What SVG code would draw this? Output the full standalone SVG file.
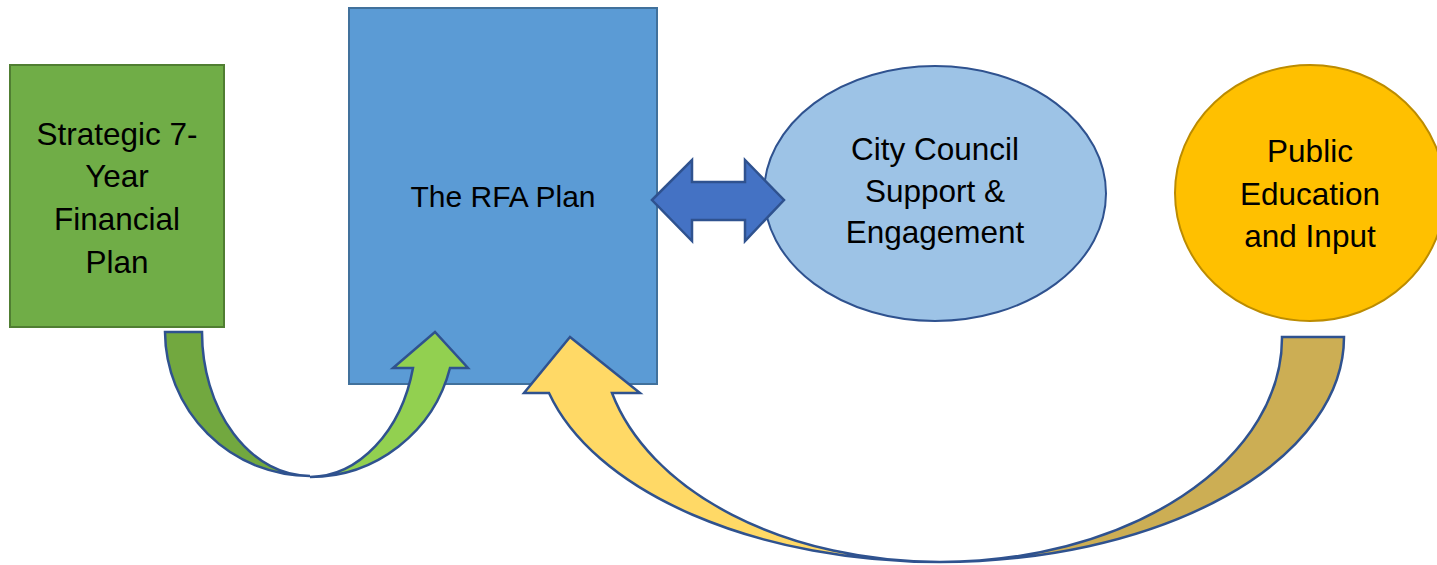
<svg xmlns="http://www.w3.org/2000/svg" width="1437" height="565" viewBox="0 0 1437 565">
<style>
.t{font-family:"Liberation Sans",Arial,sans-serif;font-size:31.5px;fill:#000;text-anchor:middle}
.arr{stroke:#2F528F;stroke-width:2.5;stroke-linejoin:miter}
</style>
<rect width="1437" height="565" fill="#fff"/>
<g id="strategic-plan">
<rect x="10" y="65" width="214" height="262" fill="#70AD47" stroke="#507E32" stroke-width="2"/>
<text class="t" x="117" y="145">Strategic 7-</text>
<text class="t" x="117" y="187">Year</text>
<text class="t" x="117" y="230">Financial</text>
<text class="t" x="117" y="273">Plan</text>
</g>
<g id="rfa-plan">
<rect x="349" y="8" width="308" height="376" fill="#5B9BD5" stroke="#41719C" stroke-width="2"/>
<text class="t" x="503" y="207" style="font-size:30px">The RFA Plan</text>
</g>
<g id="city-council">
<ellipse cx="935" cy="193.5" rx="171" ry="127.5" fill="#9DC3E6" stroke="#2F528F" stroke-width="2"/>
<text class="t" x="935" y="160">City Council</text>
<text class="t" x="935" y="202">Support &amp;</text>
<text class="t" x="935" y="243">Engagement</text>
</g>
<g id="public-education">
<ellipse cx="1310" cy="193" rx="135" ry="128" fill="#FFC000" stroke="#BC8C00" stroke-width="2"/>
<text class="t" x="1310" y="162">Public</text>
<text class="t" x="1310" y="205">Education</text>
<text class="t" x="1310" y="247">and Input</text>
</g>
<g id="connectors">
<path class="arr" fill="#72A83F" d="M165,332 L202,332 A108,144 0 0 0 310,476 A145,145 0 0 1 165,332 Z"/>
<path class="arr" fill="#92D050" d="M310,477 A145,145 0 0 0 450,368 L468,368 L435,332 L393,368 L413,368 A107,144 0 0 1 310,477 Z"/>
<path class="arr" fill="#CCAE54" d="M1282,337 L1344,337 A404,225 0 0 1 940,562 A342,224 0 0 0 1282,337 Z"/>
<path class="arr" fill="#FFD966" d="M940,562 A404,225 0 0 1 549,393 L524,393 L570,337 L640,393 L612,393 A338,224 0 0 0 940,562 Z"/>
<path class="arr" fill="#4472C4" d="M652,200 L692,160 L692,182 L745,182 L745,160 L784,200 L745,241 L745,220 L692,220 L692,241 Z"/>
</g>
</svg>
